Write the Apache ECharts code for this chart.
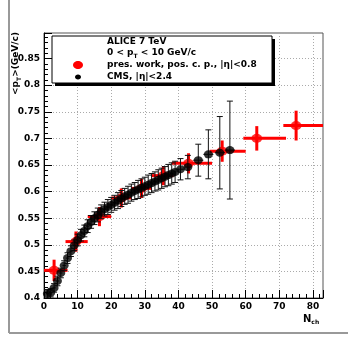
<!DOCTYPE html>
<html><head><meta charset="utf-8">
<script src="https://cdn.jsdelivr.net/npm/echarts@6/dist/echarts.min.js"></script>
<style>html,body{margin:0;padding:0;background:#fff}#c{width:348px;height:343px}</style>
</head><body><div id="c"></div>
<script>
// CMS, |eta|<2.4
const cmsX = [1,2,3,4,5,6,7,8,9,10,11,12,13,14,15,16,17,18,19,20,21,22,23,24,25,26,27,28,29,30,31,32,33,34,35,36,37,38,39,40.6,42.8,45.9,48.9,52.3,55.3];
const cmsY = [0.408,0.410,0.419,0.432,0.447,0.461,0.475,0.488,0.499,0.509,0.518,0.526,0.535,0.543,0.550,0.556,0.562,0.567,0.571,0.575,0.579,0.583,0.587,0.591,0.594,0.598,0.601,0.604,0.607,0.610,0.613,0.616,0.619,0.622,0.625,0.628,0.631,0.634,0.637,0.642,0.646,0.659,0.670,0.673,0.678];
const cmsYErr = [0.008,0.008,0.008,0.009,0.009,0.009,0.010,0.010,0.010,0.011,0.011,0.011,0.012,0.012,0.012,0.013,0.013,0.013,0.014,0.014,0.014,0.015,0.015,0.015,0.016,0.016,0.016,0.017,0.017,0.017,0.018,0.018,0.018,0.019,0.019,0.019,0.020,0.020,0.020,0.020,0.022,0.030,0.046,0.068,0.092];
const cmsXErr = [0.5,0.5,0.5,0.5,0.5,0.5,0.5,0.5,0.5,0.5,0.5,0.5,0.5,0.5,0.5,0.5,0.5,0.5,0.5,0.5,0.5,0.5,0.5,0.5,0.5,0.5,0.5,0.5,0.5,0.5,0.5,0.5,0.5,0.5,0.5,0.5,0.5,0.5,0.5,1,1,1.5,1.5,1.5,1.5];
// ALICE pres. work
const aliceX = [3, 9.5, 16.5, 23, 29, 35.5, 43, 53, 63.3, 75];
const aliceY = [0.452, 0.506, 0.553, 0.588, 0.606, 0.630, 0.653, 0.676, 0.700, 0.724];
const aliceXLow = [0, 6.4, 13, 20, 26, 32, 38, 49.3, 59.3, 71.2];
const aliceXHigh = [7, 13, 20, 26, 32, 38.5, 50, 60, 72, 83];
const aliceYErr = [0.020, 0.019, 0.018, 0.018, 0.018, 0.018, 0.019, 0.020, 0.023, 0.028];

const FONT = 'DejaVu Sans';
const chart = echarts.init(document.getElementById('c'), null, {renderer:'canvas'});

const cmsData = cmsX.map((x,i)=>[x, cmsY[i], x-cmsXErr[i], x+cmsXErr[i], cmsY[i]-cmsYErr[i], cmsY[i]+cmsYErr[i]]);
const aliceData = aliceX.map((x,i)=>[x, aliceY[i], aliceXLow[i], aliceXHigh[i], aliceY[i]-aliceYErr[i], aliceY[i]+aliceYErr[i]]);

function errRender(color, width, cap){
  return function(params, api){
    const x=api.value(0), y=api.value(1);
    const pL=api.coord([api.value(2),y]), pR=api.coord([api.value(3),y]);
    const pB=api.coord([x,api.value(4)]), pT=api.coord([x,api.value(5)]);
    const st={stroke:color, lineWidth:width};
    const ch=[
      {type:'line', shape:{x1:pL[0],y1:pL[1],x2:pR[0],y2:pR[1]}, style:st},
      {type:'line', shape:{x1:pB[0],y1:pB[1],x2:pT[0],y2:pT[1]}, style:st}
    ];
    if(cap){
      ch.push({type:'line', shape:{x1:pB[0]-cap,y1:pB[1],x2:pB[0]+cap,y2:pB[1]}, style:st});
      ch.push({type:'line', shape:{x1:pT[0]-cap,y1:pT[1],x2:pT[0]+cap,y2:pT[1]}, style:st});
    }
    return {type:'group', children:ch};
  };
}

const labelStyle = {fontFamily:FONT, fontWeight:'bold', fontSize:9, color:'#000'};

chart.setOption({
  animation:false,
  backgroundColor:'#fff',
  grid:{left:44, right:25, top:33, bottom:45, show:true, borderColor:'#555', borderWidth:1, backgroundColor:'transparent'},
  xAxis:{type:'value', min:0, max:83, interval:10,
    axisLine:{show:true, onZero:false, lineStyle:{color:'#000', width:1}},
    axisTick:{show:true, inside:true, length:8, lineStyle:{color:'#000'}},
    minorTick:{show:true, splitNumber:5, length:4, lineStyle:{color:'#000'}},
    splitLine:{show:true, lineStyle:{color:'#aaa', type:[1,2], width:1}},
    axisLabel:Object.assign({margin:4, showMaxLabel:false, formatter:v=>String(v)}, labelStyle)
  },
  yAxis:{type:'value', min:0.4, max:0.898, interval:0.05,
    axisLine:{show:true, onZero:false, lineStyle:{color:'#000', width:1}},
    axisTick:{show:true, inside:true, length:8, lineStyle:{color:'#000'}},
    minorTick:{show:true, splitNumber:5, length:4, lineStyle:{color:'#000'}},
    splitLine:{show:true, lineStyle:{color:'#aaa', type:[1,2], width:1}},
    axisLabel:Object.assign({margin:4, showMaxLabel:false, formatter:v=>String(+v.toFixed(2))}, labelStyle)
  },
  series:[
    {type:'custom', name:'pres. work', data:aliceData, encode:{x:0,y:1}, clip:true, z:2,
      renderItem:errRender('#ff0000', 3, 0)},
    {type:'scatter', name:'pres. work', data:aliceData.map(d=>[d[0],d[1]]), symbol:'circle', symbolSize:[11,9],
      itemStyle:{color:'#ff0000'}, z:3},
    {type:'custom', name:'CMS', data:cmsData, encode:{x:0,y:1}, clip:true, z:4,
      renderItem:errRender('#111', 1, 3)},
    {type:'scatter', name:'CMS', data:cmsData.map(d=>[d[0],d[1]]), symbol:'circle', symbolSize:[9,8],
      itemStyle:{color:'#000'}, z:5}
  ],
  graphic:[
    {type:'line', shape:{x1:9,y1:0,x2:9,y2:333}, style:{stroke:'#999', lineWidth:2}, silent:true},
    {type:'line', shape:{x1:9,y1:333,x2:348,y2:333}, style:{stroke:'#999', lineWidth:2}, silent:true},
    // legend box
    {type:'rect', shape:{x:55,y:39,width:220,height:47}, style:{fill:'#000'}, z:100},
    {type:'rect', shape:{x:52,y:36,width:220,height:47}, style:{fill:'#fff', stroke:'#000', lineWidth:1}, z:101},
    {type:'text', x:107, y:42, z:102, style:{text:'ALICE 7 TeV', font:'bold 9px "DejaVu Sans"', fill:'#000', verticalAlign:'middle'}},
    {type:'text', x:107, y:53, z:102, style:{text:'{a|0 < p}{s|T}{a| < 10 GeV/c}', verticalAlign:'middle',
      rich:{a:{fontFamily:FONT,fontWeight:'bold',fontSize:9,fill:'#000'}, s:{fontFamily:FONT,fontWeight:'bold',fontSize:6,fill:'#000',padding:[6,0,0,0]}}}},
    {type:'ellipse', shape:{cx:78, cy:65, rx:5, ry:4}, style:{fill:'#ff0000'}, z:102},
    {type:'text', x:107, y:65, z:102, style:{text:'pres. work, pos. c. p., |η|<0.8', font:'bold 9px "DejaVu Sans"', fill:'#000', verticalAlign:'middle'}},
    {type:'ellipse', shape:{cx:78, cy:77, rx:3, ry:2.5}, style:{fill:'#000'}, z:102},
    {type:'text', x:107, y:77, z:102, style:{text:'CMS, |η|<2.4', font:'bold 9px "DejaVu Sans"', fill:'#000', verticalAlign:'middle'}},
    // axis titles
    {type:'text', x:16, y:32, rotation:Math.PI/2, z:102, style:{text:'{a|<p}{s|T}{a|>(GeV/c)}', align:'right', verticalAlign:'middle',
      rich:{a:{fontFamily:FONT,fontWeight:'bold',fontSize:9,fill:'#000'}, s:{fontFamily:FONT,fontWeight:'bold',fontSize:6,fill:'#000',padding:[6,0,0,0]}}}},
    {type:'text', x:303, y:319, z:102, style:{text:'{a|N}{s|ch}', verticalAlign:'middle',
      rich:{a:{fontFamily:FONT,fontWeight:'bold',fontSize:10,fill:'#000'}, s:{fontFamily:FONT,fontWeight:'bold',fontSize:6,fill:'#000',padding:[6,0,0,0]}}}}
  ]
});
</script></body></html>
